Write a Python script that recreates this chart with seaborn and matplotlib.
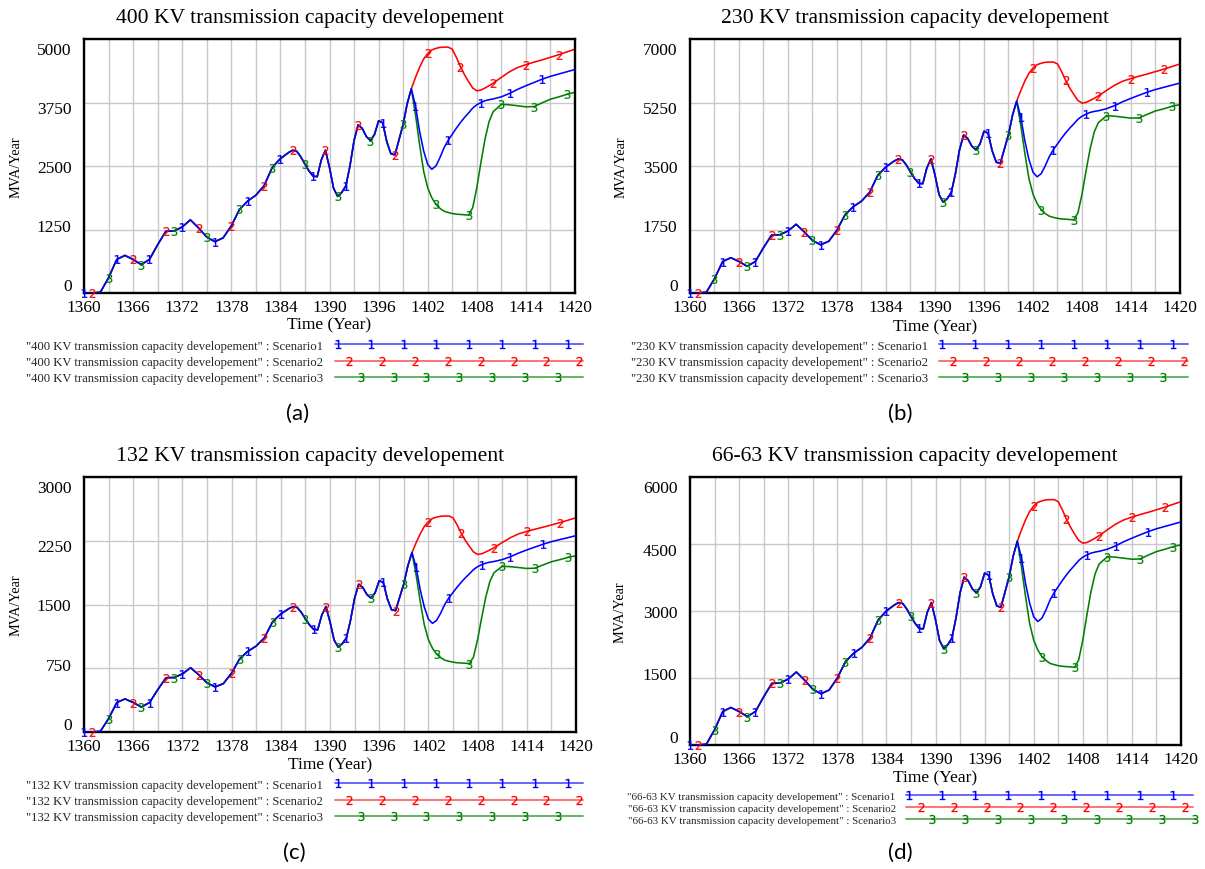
import numpy as np
import pandas as pd
import matplotlib
matplotlib.use("Agg")
import matplotlib.pyplot as plt
import matplotlib.transforms as mtransforms
from matplotlib.lines import Line2D
from matplotlib.legend_handler import HandlerLine2D
import seaborn as sns

# ---------------------------------------------------------------- time grid
# yearly to 1385, half-yearly through the volatile 1385-1410 stretch, yearly after
years_hist = list(range(1360, 1386)) + list(np.arange(1385.5, 1400.01, 0.5))
years_scen = list(np.arange(1400.5, 1410.01, 0.5)) + list(range(1411, 1421))

# ---------------------------------------------------------------- 400 KV
hist_400 = [0, 0, 15, 300, 660, 740, 660, 560, 660, 950, 1215, 1220, 1300, 1440, 1280,
            1100, 1010, 1085, 1320, 1645, 1810, 1925, 2110, 2470, 2645, 2765,
            2810, 2790, 2680, 2535, 2400, 2300, 2290, 2620, 2810, 2470,
            2060, 1900, 1980, 2110, 2500, 3000, 3310, 3240, 3080, 3000,
            3120, 3390, 3350, 2980, 2740, 2720, 3020, 3320, 3730, 4020]
s1_400 = [3690, 3190, 2800, 2530, 2435, 2500, 2665, 2860, 3005, 3125, 3245, 3355, 3455, 3545, 3640,
          3705, 3750, 3785, 3805, 3820, 3862, 3928, 4010, 4080, 4145, 4210, 4265, 4310, 4355, 4400]
s2_400 = [4240, 4440, 4605, 4715, 4785, 4815, 4835, 4840, 4840, 4800, 4640, 4455, 4295, 4160, 4035,
          3980, 3995, 4035, 4080, 4130, 4245, 4355, 4440, 4495, 4545, 4590, 4640, 4690, 4745, 4800]
s3_400 = [3520, 2930, 2400, 2070, 1875, 1745, 1665, 1610, 1585, 1565, 1552, 1546, 1540, 1533, 1680,
          2070, 2565, 3025, 3375, 3570, 3715, 3705, 3685, 3665, 3670, 3745, 3815, 3860, 3910, 3950]
yticks_400 = [0, 1250, 2500, 3750, 5000]

# ---------------------------------------------------------------- 230 KV
hist_230 = [0, 0, 20, 395, 868, 973, 868, 736, 868, 1249, 1598, 1604, 1710, 1894, 1683,
            1447, 1328, 1427, 1736, 2163, 2380, 2531, 2775, 3248, 3478, 3636,
            3695, 3669, 3524, 3334, 3156, 3025, 3011, 3445, 3695, 3248,
            2709, 2499, 2604, 2775, 3288, 3945, 4353, 4261, 4050, 3945,
            4103, 4458, 4405, 3919, 3603, 3577, 3971, 4366, 4905, 5286]
s1_230 = [4852, 4195, 3682, 3327, 3202, 3288, 3504, 3761, 3952, 4109, 4267, 4412, 4543, 4662, 4787,
          4872, 4931, 4977, 5004, 5023, 5079, 5165, 5273, 5365, 5451, 5536, 5608, 5668, 5727, 5786]
s2_230 = [5576, 5839, 6056, 6200, 6292, 6332, 6358, 6365, 6365, 6312, 6102, 5858, 5648, 5470, 5306,
          5234, 5253, 5306, 5365, 5431, 5582, 5727, 5839, 5911, 5977, 6036, 6102, 6167, 6240, 6312]
s3_230 = [4629, 3853, 3156, 2722, 2466, 2295, 2189, 2117, 2084, 2058, 2041, 2033, 2025, 2016, 2209,
          2722, 3373, 3978, 4438, 4695, 4885, 4872, 4846, 4819, 4826, 4925, 5017, 5076, 5142, 5194]
yticks_230 = [0, 1750, 3500, 5250, 7000]

# ---------------------------------------------------------------- 132 KV
hist_132 = [0, 0, 8, 158, 347, 389, 347, 294, 347, 499, 638, 641, 683, 756, 672,
            578, 530, 570, 693, 864, 950, 1011, 1108, 1297, 1389, 1452,
            1475, 1465, 1407, 1331, 1260, 1208, 1202, 1376, 1475, 1297,
            1082, 998, 1040, 1108, 1313, 1575, 1738, 1701, 1617, 1575,
            1638, 1780, 1759, 1565, 1439, 1428, 1586, 1743, 1958, 2111]
s1_132 = [1937, 1675, 1470, 1328, 1278, 1313, 1399, 1502, 1578, 1641, 1704, 1761, 1814, 1861, 1911,
          1945, 1969, 1987, 1998, 2006, 2028, 2062, 2105, 2142, 2176, 2210, 2239, 2263, 2286, 2310]
s2_132 = [2226, 2331, 2418, 2475, 2512, 2528, 2538, 2541, 2541, 2520, 2436, 2339, 2255, 2184, 2118,
          2090, 2097, 2118, 2142, 2168, 2229, 2286, 2331, 2360, 2386, 2410, 2436, 2462, 2491, 2520]
s3_132 = [1848, 1538, 1260, 1087, 984, 916, 874, 845, 832, 822, 815, 812, 809, 805, 882,
          1087, 1347, 1588, 1772, 1874, 1950, 1945, 1935, 1924, 1927, 1966, 2003, 2027, 2053, 2074]
yticks_132 = [0, 750, 1500, 2250, 3000]

# ---------------------------------------------------------------- 66-63 KV
hist_66 = [0, 0, 17, 341, 749, 840, 749, 636, 749, 1078, 1379, 1385, 1476, 1634, 1453,
           1249, 1146, 1231, 1498, 1867, 2054, 2185, 2395, 2803, 3002, 3138,
           3189, 3167, 3042, 2877, 2724, 2611, 2599, 2974, 3189, 2803,
           2338, 2157, 2247, 2395, 2838, 3405, 3757, 3677, 3496, 3405,
           3541, 3848, 3802, 3382, 3110, 3087, 3428, 3768, 4234, 4563]
s1_66 = [4188, 3621, 3178, 2872, 2764, 2838, 3025, 3246, 3411, 3547, 3683, 3808, 3921, 4024, 4131,
         4205, 4256, 4296, 4319, 4336, 4383, 4458, 4551, 4631, 4705, 4778, 4841, 4892, 4943, 4994]
s2_66 = [4812, 5039, 5227, 5352, 5431, 5465, 5488, 5493, 5493, 5448, 5266, 5056, 4875, 4722, 4580,
         4517, 4534, 4580, 4631, 4688, 4818, 4943, 5039, 5102, 5159, 5210, 5266, 5323, 5386, 5448]
s3_66 = [3995, 3326, 2724, 2349, 2128, 1981, 1890, 1827, 1799, 1776, 1762, 1755, 1748, 1740, 1907,
         2349, 2911, 3433, 3831, 4052, 4217, 4205, 4182, 4160, 4165, 4251, 4330, 4381, 4438, 4483]
yticks_66 = [0, 1500, 3000, 4500, 6000]

scenarios = ["Scenario1", "Scenario2", "Scenario3"]
digits = ["1", "2", "3"]
colors = ["#0000ff", "#ff0000", "#008000"]
line_tints = [(0.0, 0.0, 1.0, 0.6), (1.0, 0.0, 0.0, 0.55), (0.0, 0.5, 0.0, 0.6)]
# first digit position (years) for each scenario along the curves
mark_start = [1360.0, 1361.5, 1362.85]
mark_step = 4.03

SERIF = "Liberation Serif"

sns.set_theme(style="white")
plt.rcParams["font.family"] = [SERIF, "DejaVu Sans"]

W, H = 1205, 870
fig = plt.figure(figsize=(W / 100, H / 100), dpi=100)


def fx(px):
    return px / W


def fy(py):
    return 1 - py / H


class DigitLegendLine(HandlerLine2D):
    """Legend sample: a long line with evenly spaced digit markers."""

    def __init__(self, first, step, count):
        super().__init__(numpoints=2)
        self.first, self.step, self.count = first, step, count

    def get_xdata(self, legend, xdescent, ydescent, width, height, fontsize):
        x0 = -xdescent
        marks = x0 + width * (self.first + self.step * np.arange(self.count))
        xs = np.concatenate([[x0], marks, [x0 + width]])
        return xs, xs

    def create_artists(self, *args, **kwargs):
        artists = super().create_artists(*args, **kwargs)
        for a in artists:
            a.set_markevery(slice(1, -1))
        return artists


panels = [
    dict(kv="400", hist=hist_400, scen=(s1_400, s2_400, s3_400), yticks=yticks_400, tag="(a)",
         box=(84, 40, 575, 294), title_xy=(310, 18), tag_xy=(298, 414), ylab_x=16, xlab_y=325,
         leg=dict(anchor=(583, 363), fs=9.1, hl=19.6, pad=0.95, sp=0.33,
                  marks=[(0.011, 0.1325, 8), (0.057, 0.1325, 8), (0.103, 0.1325, 7)])),
    dict(kv="230", hist=hist_230, scen=(s1_230, s2_230, s3_230), yticks=yticks_230, tag="(b)",
         box=(690, 40, 1180, 294), title_xy=(915, 18), tag_xy=(900, 414), ylab_x=621, xlab_y=327,
         leg=dict(anchor=(1188, 363), fs=9.1, hl=19.7, pad=0.85, sp=0.33,
                  marks=[(0.011, 0.1325, 8), (0.057, 0.1325, 8), (0.103, 0.1325, 7)])),
    dict(kv="132", hist=hist_132, scen=(s1_132, s2_132, s3_132), yticks=yticks_132, tag="(c)",
         box=(84, 478, 576, 733), title_xy=(310, 456), tag_xy=(294, 853), ylab_x=16, xlab_y=765,
         leg=dict(anchor=(583, 802), fs=9.1, hl=19.6, pad=0.95, sp=0.33,
                  marks=[(0.011, 0.1325, 8), (0.057, 0.1325, 8), (0.103, 0.1325, 7)])),
    dict(kv="66-63", hist=hist_66, scen=(s1_66, s2_66, s3_66), yticks=yticks_66, tag="(d)",
         box=(690, 478, 1181, 746), title_xy=(915, 456), tag_xy=(900, 853), ylab_x=620, xlab_y=778,
         leg=dict(anchor=(1193, 809), fs=7.9, hl=26.2, pad=0.9, sp=0.2,
                  marks=[(0.013, 0.1146, 9), (0.055, 0.1146, 9), (0.0915, 0.1146, 9)])),
]

for p in panels:
    l, t, r, b = p["box"]
    ax = fig.add_axes([fx(l), fy(b), fx(r - l), (b - t) / H])
    name = f"{p['kv']} KV transmission capacity developement"

    frames = []
    for sc, vals in zip(scenarios, p["scen"]):
        frames.append(pd.DataFrame({"year": years_hist + years_scen,
                                    "value": p["hist"] + vals,
                                    "scenario": sc}))
    df = pd.concat(frames, ignore_index=True)

    # lines: red and green first, blue on top of the shared history
    for i in (1, 2, 0):
        sub = df[df["scenario"] == scenarios[i]]
        sns.lineplot(data=sub, x="year", y="value", color=colors[i], lw=1.15,
                     estimator=None, sort=False, legend=False, ax=ax, zorder=2 + (i == 0))

    # digit markers along each curve
    for i in range(3):
        sub = df[df["scenario"] == scenarios[i]].reset_index(drop=True)
        xs = sub["year"].to_numpy()
        targets = mark_start[i] + mark_step * np.arange(15)
        idx = sorted({int(np.argmin(np.abs(xs - tg))) for tg in targets})
        sns.scatterplot(data=sub.iloc[idx], x="year", y="value", marker=f"${digits[i]}$",
                        color=colors[i], edgecolor=colors[i], linewidth=0.15, s=40,
                        legend=False, ax=ax, zorder=5, clip_on=False)

    yt = p["yticks"]
    ax.set_xlim(1360, 1420)
    ax.set_ylim(0, yt[-1])
    ax.set_xticks(range(1360, 1421, 6))
    ax.set_xticks(range(1360, 1421, 3), minor=True)
    ax.set_yticks(yt)
    ax.set_yticklabels([str(v) for v in yt])
    ax.grid(True, which="both", axis="x", color="#c8c8c8", lw=1.0)
    ax.grid(True, which="major", axis="y", color="#c8c8c8", lw=1.0)
    ax.set_axisbelow(True)
    ax.tick_params(axis="both", which="both", length=0, labelsize=12.5, labelcolor="black")
    ax.tick_params(axis="x", pad=4)
    ax.tick_params(axis="y", pad=9)
    for s in ax.spines.values():
        s.set_color("black")
        s.set_linewidth(1.7)
        s.set_visible(True)
    ax.set_facecolor("white")

    # y labels sit a little inside the span, as in the simulation package
    for lab, v in zip(ax.get_yticklabels(), yt):
        frac = v / yt[-1]
        dy = 6.6 * (1 - 2 * frac) / 72
        lab.set_transform(lab.get_transform() +
                          mtransforms.ScaledTranslation(0, dy, fig.dpi_scale_trans))

    ax.set_xlabel("Time (Year)", fontsize=12.5, color="black")
    ax.xaxis.label.set_va("center")
    ax.xaxis.set_label_coords(0.5, -(p["xlab_y"] - b) / (b - t))
    ax.set_ylabel("MVA/Year", fontsize=10.3, color="black")
    ax.yaxis.label.set_va("center")
    ax.yaxis.set_label_coords((p["ylab_x"] - l) / (r - l), 0.5)

    fig.text(fx(p["title_xy"][0]), fy(p["title_xy"][1]), name, ha="center", va="center",
             fontsize=15.6, color="black", family=SERIF)
    fig.text(fx(p["tag_xy"][0]), fy(p["tag_xy"][1]), p["tag"], ha="center", va="center",
             fontsize=16, color="black", family="Lato")

    lg = p["leg"]
    handles, labels, hmap = [], [], {}
    for i in range(3):
        h = Line2D([], [], color=line_tints[i], lw=1.4, marker=f"${digits[i]}$",
                   mfc=colors[i], mec=colors[i], mew=0.2, ms=6.5)
        handles.append(h)
        labels.append(f'"{name}" : {scenarios[i]}')
        first, step, count = lg["marks"][i]
        hmap[h] = DigitLegendLine(first, step, count)
    ax.legend(handles, labels, handler_map=hmap, loc="center right",
              bbox_to_anchor=(fx(lg["anchor"][0]), fy(lg["anchor"][1])),
              bbox_transform=fig.transFigure, frameon=False, markerfirst=False,
              handlelength=lg["hl"], handletextpad=lg["pad"], labelspacing=lg["sp"],
              borderpad=0, borderaxespad=0,
              prop={"family": SERIF, "size": lg["fs"]})

fig.savefig("out.png", dpi=100, facecolor="white")
